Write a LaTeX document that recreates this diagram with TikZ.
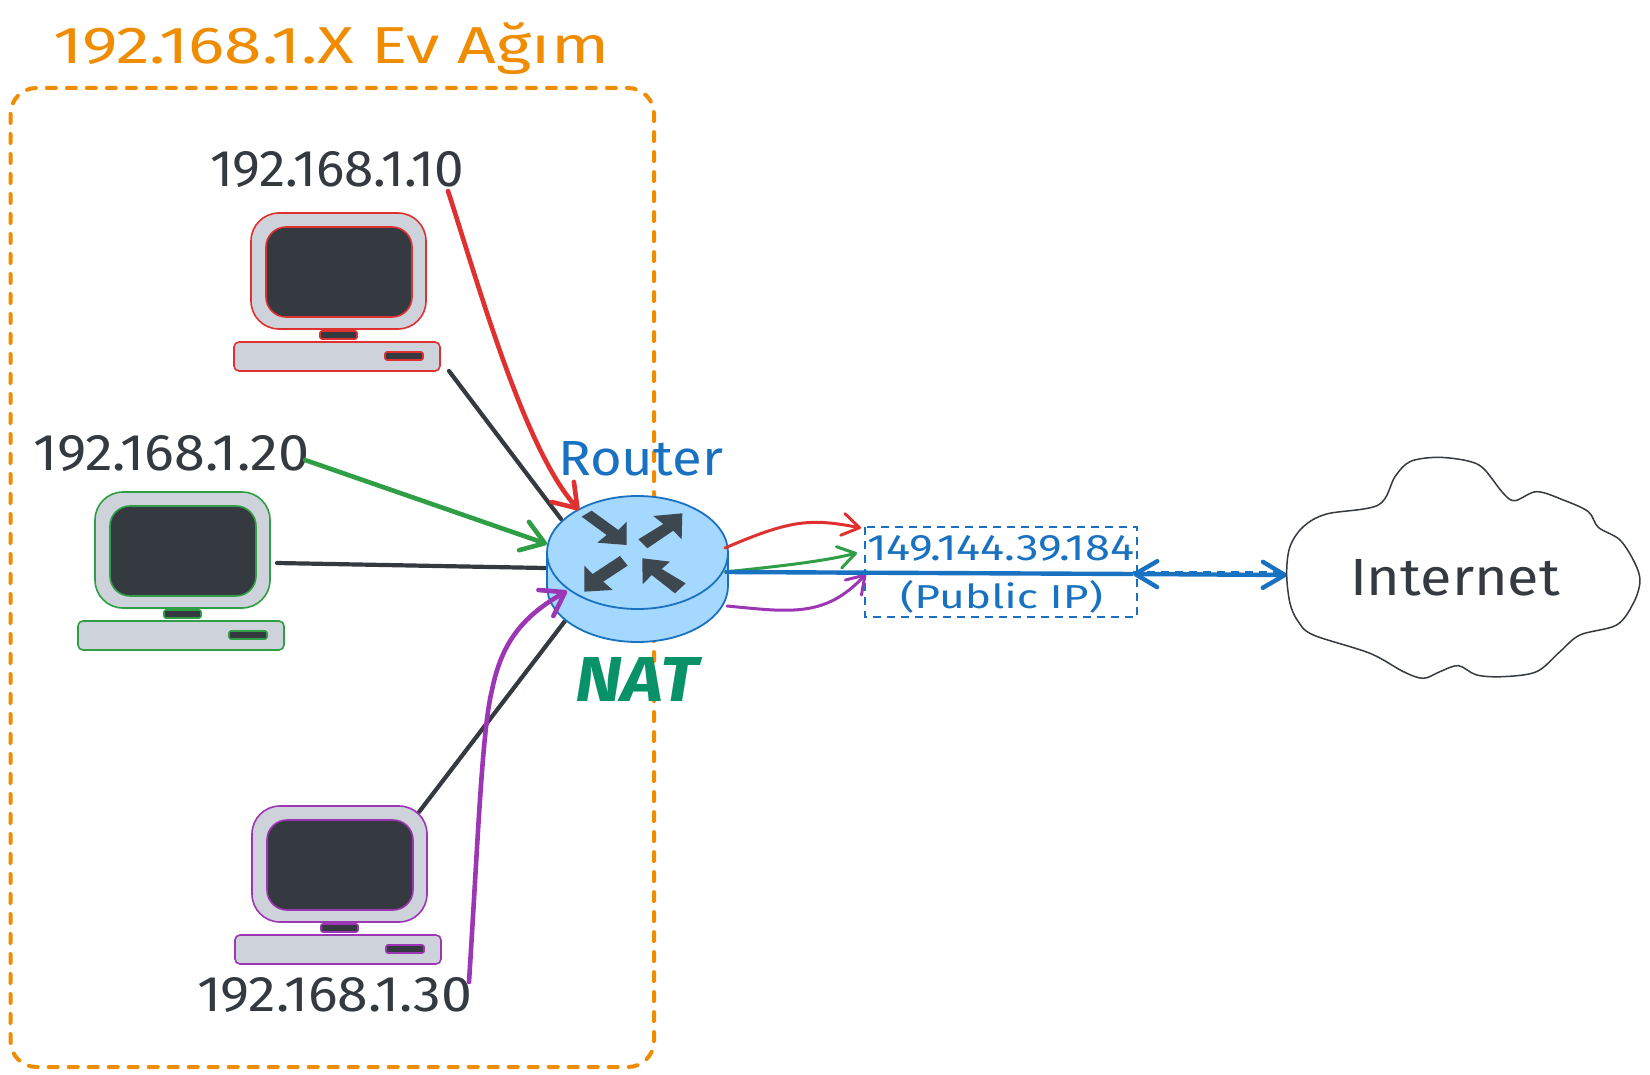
\documentclass[tikz,border=0pt]{standalone}
\usepackage{graphicx}
\usepackage{fontspec}
\setmainfont{Fira Sans}
\usetikzlibrary{arrows.meta}
\definecolor{exred}{HTML}{E03131}
\definecolor{exgreen}{HTML}{2F9E44}
\definecolor{expurple}{HTML}{9C36B5}
\definecolor{exblue}{HTML}{1971C2}
\definecolor{exorange}{HTML}{F08C00}
\definecolor{exdark}{HTML}{343A40}
\definecolor{exgray}{HTML}{CED3DB}
\definecolor{exteal}{HTML}{099268}
\definecolor{exrouter}{HTML}{A5D8FF}
\newcommand{\fitbox}[3]{\resizebox{#1pt}{#2pt}{#3}}
\tikzset{
  lbl/.style={anchor=base west,inner sep=0pt,outer sep=0pt,font=\fontsize{30}{30}\selectfont},
  bigbarb/.style={-{Straight Barb[length=22pt,width=30pt,round]},line cap=round},
  smallbarb/.style={-{Straight Barb[length=17pt,width=22pt,round]},line cap=round},
  wire/.style={draw=exdark,line width=4.2pt,line cap=round},
  pics/pc/.style n args={2}{code={
    \draw[draw=#1,fill=#2,line width=1.6pt,rounded corners=28pt] (0,0) rectangle (175,116);
    \draw[draw=#1,fill=exdark,line width=1.6pt,rounded corners=20pt] (15,14) rectangle (161,104);
    \draw[draw=#1,fill=exdark,line width=1.6pt,rounded corners=2pt] (69,118) rectangle (106,126);
    \draw[draw=#1,fill=#2,line width=1.6pt,rounded corners=5pt] (-17,129) rectangle (189,158);
    \draw[draw=#1,fill=exdark,line width=1.6pt,rounded corners=2pt] (134,139) rectangle (172,147);
  }}
}
\begin{document}
\begin{tikzpicture}[x=1pt,y=-1pt]
\useasboundingbox (0,0) rectangle (1650,1075);
\fill[white] (0,0) rectangle (1650,1075);
% home network frame
\draw[exorange,line width=4pt,dash pattern=on 9pt off 11pt,line cap=round,rounded corners=26pt] (10.5,88) rectangle (654,1067);
\node[lbl,text=exorange] (title) at (53,64) {\fitbox{556}{41}{192.168.1.X Ev Ağım}};
% anchors of connectors
\coordinate (pcA) at (449,371);
\coordinate (pcB) at (277,563);
\coordinate (pcC) at (419,812);
\coordinate (rtA) at (561,519);
\coordinate (rtB) at (545,568);
\coordinate (rtC) at (565,621);
\coordinate (lblA) at (448,191);
\coordinate (lblB) at (305,460);
\coordinate (lblC) at (469,982);
\coordinate (rtInA) at (579,510);
\coordinate (rtInB) at (547,544);
\coordinate (rtInC) at (567,591);
\coordinate (rtOutA) at (725,548);
\coordinate (rtOutB) at (725,572);
\coordinate (rtOutC) at (727,606);
\coordinate (ipA) at (861,528);
\coordinate (ipB) at (857,553);
\coordinate (ipC) at (866,574);
\coordinate (ipL) at (1133,574);
\coordinate (netL) at (1287,575);
\coordinate (dashL) at (1133,572);
\coordinate (dashR) at (1287,572);
% black links
\draw[wire] (pcA) -- (rtA);
\draw[wire] (pcB) -- (rtB);
\draw[wire] (pcC) -- (rtC);
% computers
\pic at (251,213) {pc={exred}{exgray}};
\pic at (95,492) {pc={exgreen}{exgray}};
\pic at (252,806) {pc={expurple}{exgray}};
% router
\draw[draw=exblue,fill=exrouter,line width=1.8pt] (547,552.5) -- (547,586) arc[start angle=180,end angle=360,x radius=90.5pt,y radius=56pt] -- (728,552.5) -- cycle;
\draw[draw=exblue,fill=exrouter,line width=1.8pt] (637.5,552.5) ellipse[x radius=90.5pt,y radius=56.5pt];
\begin{scope}[shift={(500,420)},x=0.3333pt,y=-0.3333pt,fill=exdark!92!exrouter]
\fill (245,290) -- (275,272) -- (355,330) -- (380,305) -- (380,375) -- (292,368) -- (320,345) -- cycle;
\fill (415,358) -- (490,312) -- (460,288) -- (547,280) -- (545,358) -- (520,332) -- (442,385) -- cycle;
\fill (360,408) -- (383,437) -- (310,485) -- (338,510) -- (253,515) -- (253,437) -- (278,462) -- cycle;
\fill (427,415) -- (510,425) -- (485,447) -- (557,490) -- (525,520) -- (455,465) -- (428,493) -- cycle;
\end{scope}
% labels
\node[lbl,text=exdark] (ipa) at (210,187) {\fitbox{254}{35}{192.168.1.10}};
\node[lbl,text=exdark] (ipb) at (33,470) {\fitbox{276}{35}{192.168.1.20}};
\node[lbl,text=exdark] (ipc) at (197,1011) {\fitbox{275}{34}{192.168.1.30}};
\node[lbl,text=exblue] (routerlbl) at (558,475) {\fitbox{165}{34}{Router}};
\node[lbl,text=exteal,font=\fontsize{30}{30}\selectfont\bfseries\itshape] (natlbl) at (575,701) {\fitbox{123}{44}{NAT}};
% public ip box
\draw[exblue,line width=2.4pt,dash pattern=on 8pt off 6pt] (865,527) rectangle (1137,617);
\node[lbl,text=exblue] (pubip) at (867,560) {\fitbox{267}{25}{149.144.39.184}};
\node[lbl,text=exblue] (publbl) at (900,608) {\fitbox{203}{28}{(Public IP)}};
% colored flows into the router
\draw[exred,line width=4.6pt,bigbarb] (lblA) .. controls (480,290) and (525,450) .. (rtInA);
\draw[exgreen,line width=4.6pt,bigbarb] (lblB) -- (rtInB);
\draw[expurple,line width=4.6pt,bigbarb] (lblC) .. controls (478,840) and (482,730) .. (492,690) .. controls (502,640) and (525,615) .. (rtInC);
% flows out of the router
\draw[exred,line width=3pt,smallbarb] (rtOutA) .. controls (790,520) and (810,518) .. (ipA);
\draw[exgreen,line width=3pt,smallbarb] (rtOutB) .. controls (780,566) and (820,562) .. (ipB);
\draw[expurple,line width=3pt,smallbarb] (rtOutC) .. controls (790,612) and (825,618) .. (ipC);
\draw[exblue,line width=4.4pt] (rtOutB) -- (ipL);
\draw[exblue,line width=4.4pt,{Straight Barb[length=22pt,width=26pt,round]}-{Straight Barb[length=22pt,width=26pt,round]},line cap=round] (ipL) -- (netL);
\draw[exblue,line width=2pt,dash pattern=on 8pt off 6pt] (dashL) -- (dashR);
% cloud
\begin{scope}[shift={(1270,440)},x=0.3333pt,y=-0.3333pt]
\draw[draw=exdark,fill=white,line width=1.5pt] plot[smooth cycle,tension=0.55] coordinates {(50,400) (60,320) (100,260) (170,222) (325,195) (375,110) (420,65) (500,52) (590,62) (640,85) (700,160) (735,182) (800,155) (880,180) (955,215) (985,262) (1050,300) (1095,370) (1110,425) (1090,490) (1040,555) (930,585) (870,635) (800,695) (700,710) (620,705) (565,677) (510,695) (460,715) (400,695) (300,640) (130,585) (85,545) (60,490)};
\end{scope}
\node[lbl,text=exdark] (netlbl) at (1350,595) {\fitbox{210}{36}{Internet}};
\end{tikzpicture}
\end{document}
